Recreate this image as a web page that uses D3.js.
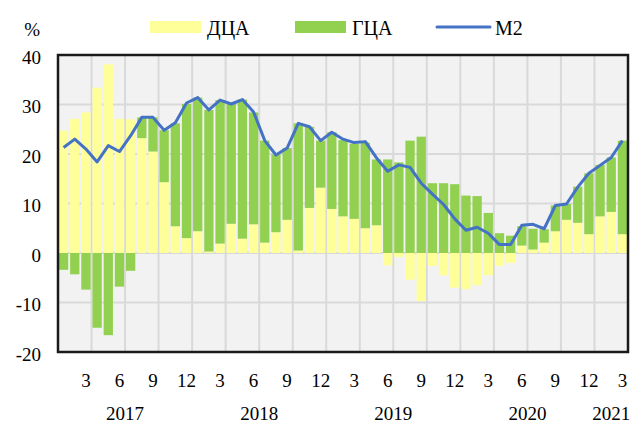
<!DOCTYPE html>
<html>
<head>
<meta charset="utf-8">
<script src="https://cdn.jsdelivr.net/npm/d3@7"></script>
<style>
  body { margin: 0; background: #fff; }
  svg text { font-family: "Liberation Serif", "Times New Roman", serif; fill: #000; }
</style>
</head>
<body>
<svg id="chart" width="630" height="423"></svg>
<script>
// monthly, Jan 2017 .. Mar 2021
var months = [1,2,3,4,5,6,7,8,9,10,11,12, 1,2,3,4,5,6,7,8,9,10,11,12,
              1,2,3,4,5,6,7,8,9,10,11,12, 1,2,3,4,5,6,7,8,9,10,11,12, 1,2,3];
var years = ["2017", "2018", "2019", "2020", "2021"];

var dca = [24.7, 27.1, 28.4, 33.4, 38.1, 27.1, 27.0, 23.2, 20.5, 14.3, 5.4, 3.0,
           4.4, 0.3, 1.9, 5.9, 2.9, 5.8, 2.1, 4.2, 6.7, 0.5, 9.1, 13.2,
           8.9, 7.4, 6.9, 5.0, 5.6, -2.5, -0.8, -5.4, -9.7, -2.6, -4.5, -7.0,
           -7.3, -6.5, -4.5, -2.6, -2.0, 1.5, 0.7, 2.1, 4.4, 6.7, 6.1, 3.8,
           7.4, 8.3, 3.8];
var gca = [-3.4, -4.3, -7.4, -15.1, -16.6, -6.8, -3.6, 4.2, 6.9, 10.5, 20.8, 27.1,
           27.0, 28.6, 29.0, 24.2, 28.1, 22.6, 20.6, 15.7, 14.5, 25.7, 16.4, 9.5,
           15.5, 15.4, 15.2, 17.3, 13.3, 18.9, 18.3, 22.7, 23.5, 14.1, 14.1, 13.9,
           11.6, 11.5, 8.1, 4.0, 3.5, 3.9, 4.2, 2.7, 5.2, 3.2, 7.3, 12.3,
           10.4, 11.0, 18.9];
var m2 = [21.3, 23.0, 21.0, 18.4, 21.7, 20.5, 23.7, 27.4, 27.4, 24.8, 26.3, 30.3,
          31.4, 28.9, 30.9, 30.1, 31.0, 28.5, 22.7, 19.8, 21.2, 26.2, 25.5, 22.7,
          24.4, 23.0, 22.3, 22.5, 19.2, 16.5, 17.8, 17.3, 14.1, 11.9, 9.8, 6.9,
          4.6, 5.2, 4.0, 1.7, 1.7, 5.6, 5.8, 4.9, 9.6, 9.9, 13.3, 16.1,
          17.7, 19.3, 22.7];
var yTicks = [-20, -10, 0, 10, 20, 30, 40];

var svg = d3.select("#chart");
var plotLeft = 58, plotRight = 628, plotTop = 55, plotBottom = 352;
var fs = "19px";

var table = months.map(function(m, i){
  return {i: i, month: m, dca: dca[i], gca: gca[i], m2: m2[i]};
});

var x = d3.scaleBand()
    .domain(d3.range(months.length))
    .range([plotLeft, plotRight])
    .paddingInner(0.17)
    .paddingOuter(0.085);
var step = x.step();

var y = d3.scaleLinear()
    .domain([-20, 40])
    .range([plotBottom, plotTop]);

// plot background
svg.append("rect")
  .attr("x", plotLeft).attr("y", plotTop)
  .attr("width", plotRight - plotLeft).attr("height", plotBottom - plotTop)
  .attr("fill", "#f2f2f2");

// grid
svg.append("g").selectAll("line")
  .data(yTicks.slice(1, -1)).enter().append("line")
  .attr("x1", plotLeft).attr("x2", plotRight)
  .attr("y1", function(d){ return y(d); })
  .attr("y2", function(d){ return y(d); })
  .attr("stroke", "#d9d9d9").attr("stroke-width", 2);

svg.append("g").selectAll("line")
  .data(table.filter(function(d){ return d.month % 3 === 0 && d.i < months.length - 1; }))
  .enter().append("line")
  .attr("x1", function(d){ return x(d.i) + x.bandwidth() + (step - x.bandwidth()) / 2; })
  .attr("x2", function(d){ return x(d.i) + x.bandwidth() + (step - x.bandwidth()) / 2; })
  .attr("y1", plotTop).attr("y2", plotBottom)
  .attr("stroke", "#d9d9d9").attr("stroke-width", 2);

// stacked bars
var colors = {dca: "#ffff99", gca: "#92d050"};
var series = d3.stack()
    .keys(["dca", "gca"])
    .offset(d3.stackOffsetDiverging)(table);

svg.append("g").selectAll("g")
  .data(series).enter().append("g")
  .attr("fill", function(s){ return colors[s.key]; })
  .selectAll("rect")
  .data(function(s){ return s; }).enter().append("rect")
  .attr("x", function(d){ return x(d.data.i); })
  .attr("width", x.bandwidth())
  .attr("y", function(d){ return y(Math.max(d[0], d[1])); })
  .attr("height", function(d){ return Math.abs(y(d[0]) - y(d[1])); });

// M2 line
var line = d3.line()
    .x(function(d){ return x(d.i) + x.bandwidth() / 2; })
    .y(function(d){ return y(d.m2); });

svg.append("path")
  .datum(table)
  .attr("d", line)
  .attr("fill", "none")
  .attr("stroke", "#4472c4")
  .attr("stroke-width", 3)
  .attr("stroke-linejoin", "round");

// frame
svg.append("rect")
  .attr("x", plotLeft).attr("y", plotTop)
  .attr("width", plotRight - plotLeft).attr("height", plotBottom - plotTop)
  .attr("fill", "none")
  .attr("stroke", "#1a1a1a").attr("stroke-width", 2.5);

// y labels
svg.append("g").selectAll("text")
  .data(yTicks).enter().append("text")
  .attr("x", 41)
  .attr("y", function(d){ return y(d) + 2; })
  .attr("dy", "0.35em")
  .attr("text-anchor", "end")
  .style("font-size", fs)
  .text(function(d){ return d; });

svg.append("text")
  .attr("x", 40).attr("y", 36)
  .attr("text-anchor", "end")
  .style("font-size", fs)
  .text("%");

// month labels
svg.append("g").selectAll("text")
  .data(table.filter(function(d){ return d.month % 3 === 0; }))
  .enter().append("text")
  .attr("x", function(d){ return x(d.i) + x.bandwidth() / 2; })
  .attr("y", 387)
  .attr("text-anchor", "middle")
  .style("font-size", fs)
  .text(function(d){ return d.month; });

// year labels, centred under each year's months
years.forEach(function(yr, k){
  var idx = table.filter(function(d){ return Math.floor(d.i / 12) === k; });
  var cx = (x(idx[0].i) + x(idx[idx.length - 1].i) + x.bandwidth()) / 2;
  svg.append("text")
    .attr("x", cx).attr("y", 420)
    .attr("text-anchor", "middle")
    .style("font-size", fs)
    .text(yr);
});

// legend
var legend = [
  {name: "ДЦА", type: "rect", color: colors.dca, x: 150},
  {name: "ГЦА", type: "rect", color: colors.gca, x: 295},
  {name: "M2", type: "line", color: "#4472c4", x: 437}
];
var lg = svg.append("g").selectAll("g")
  .data(legend).enter().append("g");
lg.filter(function(d){ return d.type === "rect"; }).append("rect")
  .attr("x", function(d){ return d.x; })
  .attr("y", 21).attr("width", 51).attr("height", 12)
  .attr("fill", function(d){ return d.color; });
lg.filter(function(d){ return d.type === "line"; }).append("line")
  .attr("x1", function(d){ return d.x; })
  .attr("x2", function(d){ return d.x + 53; })
  .attr("y1", 27).attr("y2", 27)
  .attr("stroke", function(d){ return d.color; })
  .attr("stroke-width", 3).attr("stroke-linecap", "round");
lg.append("text")
  .attr("x", function(d){ return d.x + (d.type === "line" ? 58 : 57); })
  .attr("y", 35)
  .style("font-size", "20px")
  .text(function(d){ return d.name; });
</script>
</body>
</html>
